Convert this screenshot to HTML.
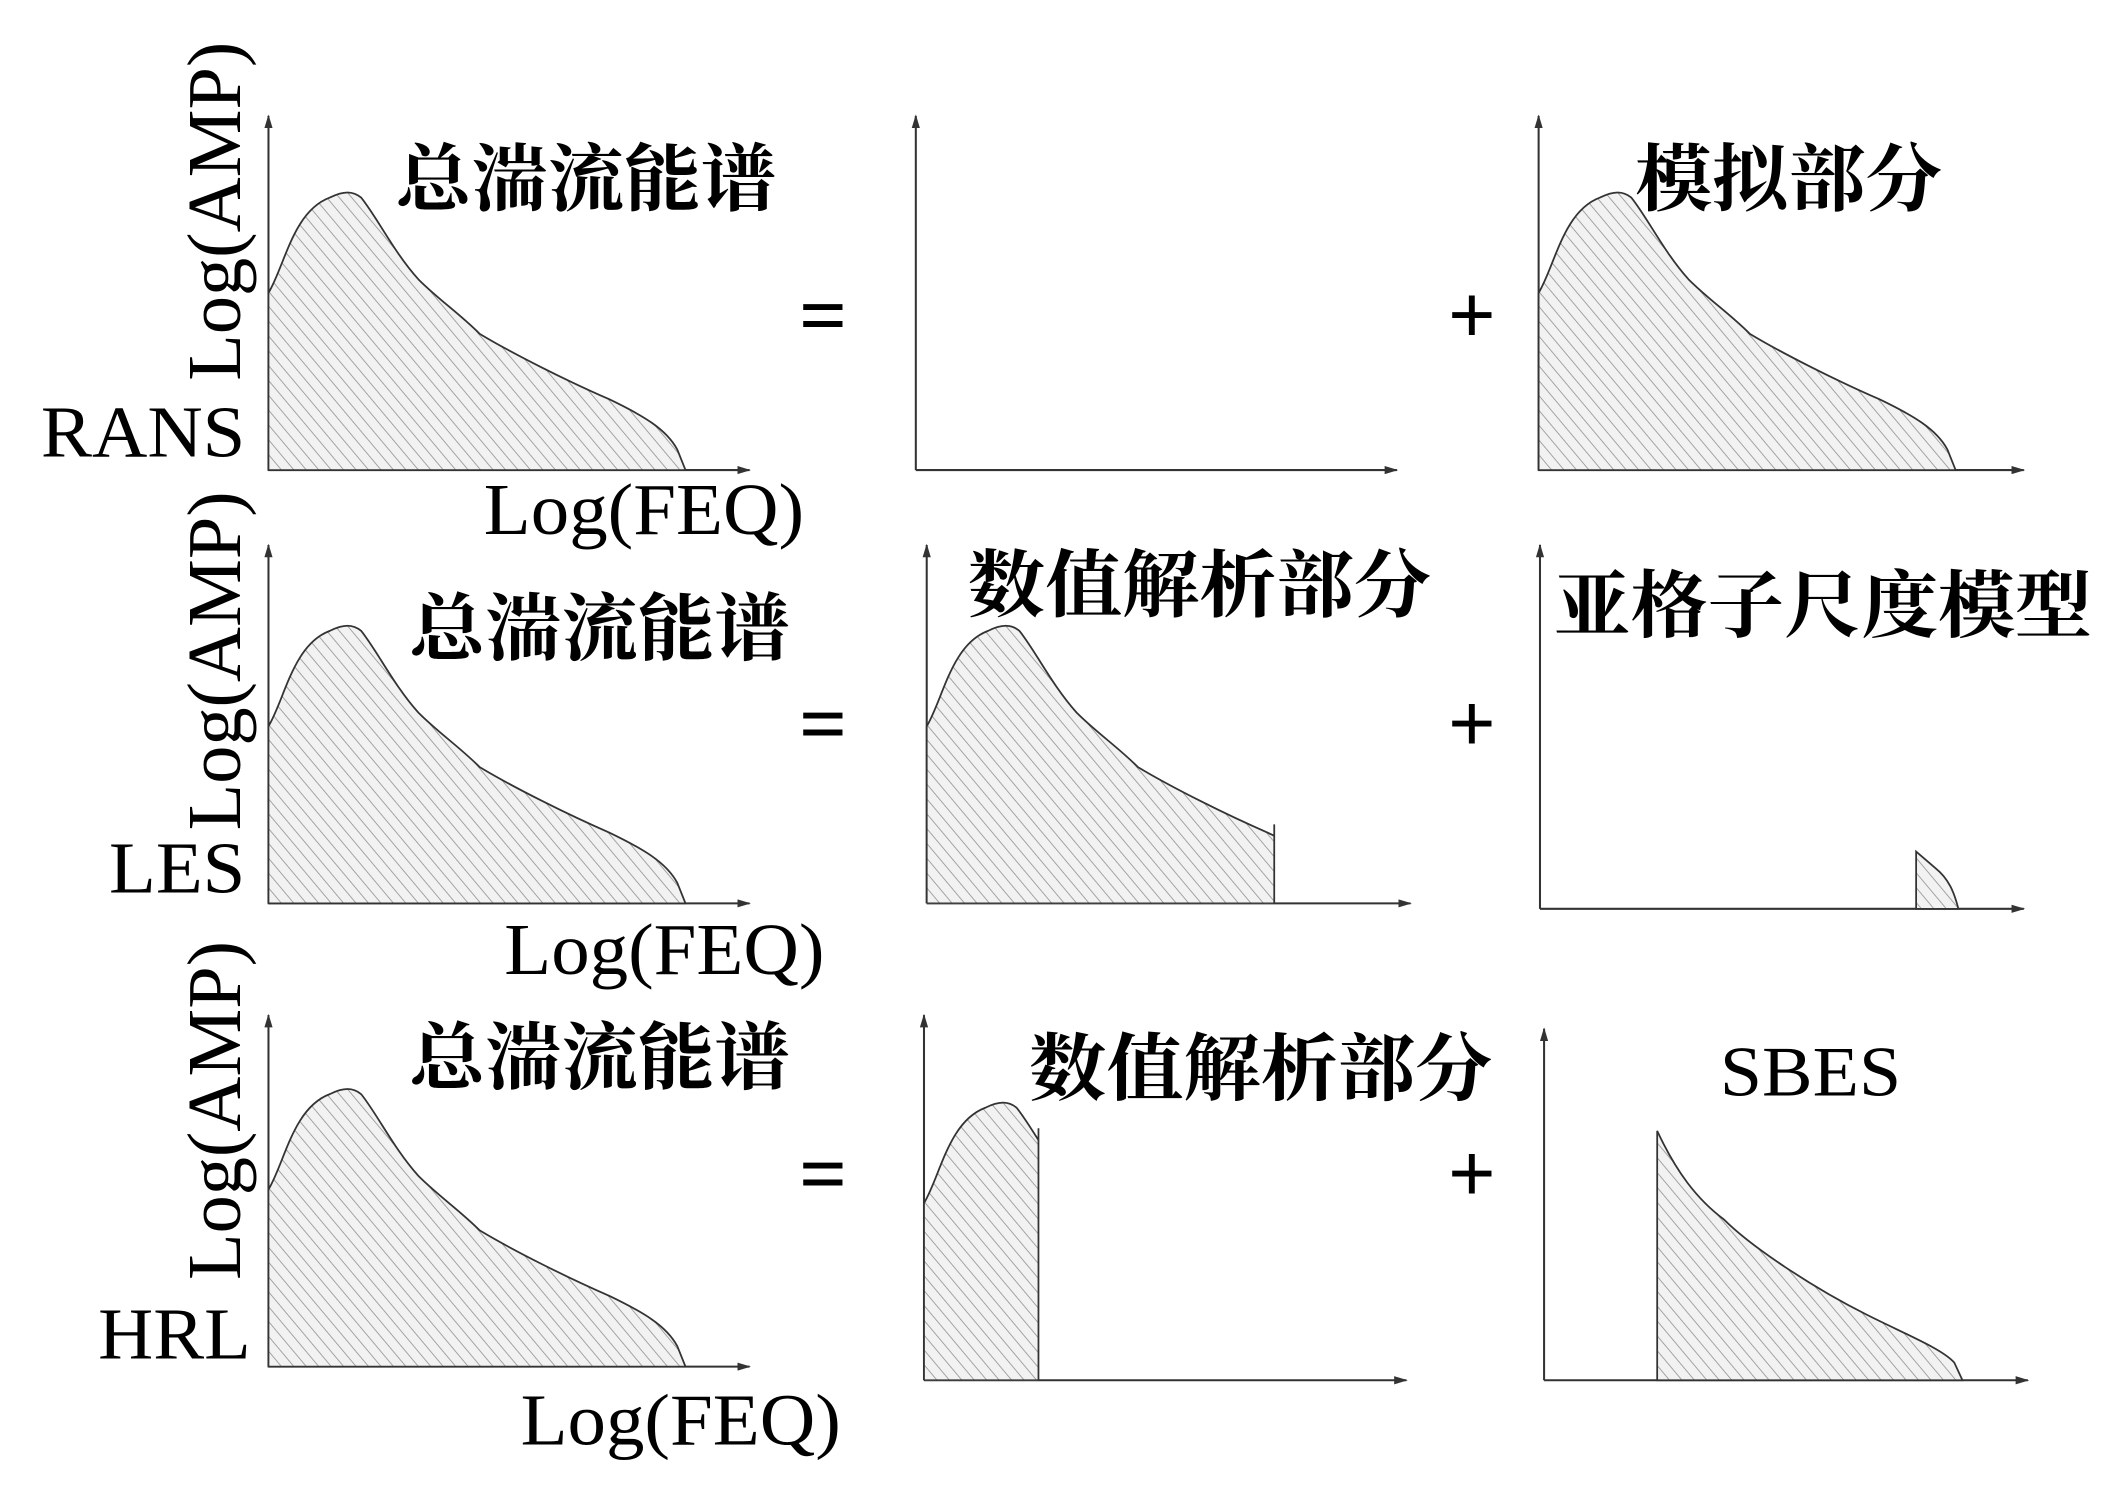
<!DOCTYPE html>
<html><head><meta charset="utf-8"><style>
html,body{margin:0;padding:0;background:#fff;}
svg{display:block;}
.l{font-family:"Liberation Serif",serif;fill:#000;}
.c{font-family:"Liberation Serif","Noto Serif CJK SC",serif;fill:#000;font-weight:bold;}
</style></head><body>
<svg width="2126" height="1492" viewBox="0 0 1560 1095" preserveAspectRatio="none" xmlns="http://www.w3.org/2000/svg">
<defs>
<pattern id="h" patternUnits="userSpaceOnUse" width="7" height="7" patternTransform="rotate(-40)">
<rect width="7" height="7" fill="#f2f2f2"/>
<line x1="0" y1="0" x2="0" y2="7" stroke="#9a9a9a" stroke-width="1.3"/>
</pattern>
<marker id="a" markerWidth="10" markerHeight="6" refX="9" refY="3" orient="auto" markerUnits="userSpaceOnUse"><path d="M0,0 L10,3 L0,6 Z" fill="#333"/></marker>
<path id="sh" d="M0,-130 C12,-150 18,-190 45,-200 C55,-205 62,-205 68,-200 C80,-185 92,-160 110,-140 C125,-125 140,-115 155,-100 C180,-85 220,-65 250,-52 C275,-40 292,-30 300,-15 L306,0 L0,0 Z" fill="url(#h)" stroke="#333" stroke-width="1.3"/>
<clipPath id="c2"><rect x="-5" y="-300" width="260" height="300"/></clipPath>
<clipPath id="c3"><rect x="-5" y="-300" width="89" height="300"/></clipPath>
</defs>
<g stroke="#333" stroke-width="1.5" fill="none">
<line x1="197" y1="345" x2="197" y2="85" marker-end="url(#a)"/><line x1="197" y1="345" x2="550" y2="345" marker-end="url(#a)"/>
<line x1="672" y1="345" x2="672" y2="85" marker-end="url(#a)"/><line x1="672" y1="345" x2="1025" y2="345" marker-end="url(#a)"/>
<line x1="1129" y1="345" x2="1129" y2="85" marker-end="url(#a)"/><line x1="1129" y1="345" x2="1485" y2="345" marker-end="url(#a)"/>
<line x1="197" y1="663" x2="197" y2="400" marker-end="url(#a)"/><line x1="197" y1="663" x2="550" y2="663" marker-end="url(#a)"/>
<line x1="680" y1="663" x2="680" y2="400" marker-end="url(#a)"/><line x1="680" y1="663" x2="1035" y2="663" marker-end="url(#a)"/>
<line x1="1130" y1="667" x2="1130" y2="400" marker-end="url(#a)"/><line x1="1130" y1="667" x2="1485" y2="667" marker-end="url(#a)"/>
<line x1="197" y1="1003" x2="197" y2="745" marker-end="url(#a)"/><line x1="197" y1="1003" x2="550" y2="1003" marker-end="url(#a)"/>
<line x1="678" y1="1013" x2="678" y2="745" marker-end="url(#a)"/><line x1="678" y1="1013" x2="1032" y2="1013" marker-end="url(#a)"/>
<line x1="1133" y1="1013" x2="1133" y2="755" marker-end="url(#a)"/><line x1="1133" y1="1013" x2="1488" y2="1013" marker-end="url(#a)"/>
</g>
<use href="#sh" transform="translate(197,345)"/>
<use href="#sh" transform="translate(1129,345)"/>
<use href="#sh" transform="translate(197,663)"/>
<g transform="translate(680,663)"><use href="#sh" clip-path="url(#c2)"/><line x1="255" y1="0" x2="255" y2="-58" stroke="#333" stroke-width="1.3"/></g>
<path d="M1406,667 L1406,625 L1420,637 C1430,645 1434,655 1437,667 Z" fill="url(#h)" stroke="#333" stroke-width="1.3"/>
<use href="#sh" transform="translate(197,1003)"/>
<g transform="translate(678,1013)"><use href="#sh" clip-path="url(#c3)"/><line x1="84" y1="0" x2="84" y2="-185" stroke="#333" stroke-width="1.3"/></g>
<path d="M1216,1013 L1216,830 C1230,860 1245,880 1265,895 C1285,915 1330,945 1370,965 C1400,980 1425,990 1434,1000 L1440,1013 Z" fill="url(#h)" stroke="#333" stroke-width="1.3"/>
<text class="l" font-size="56" transform="translate(176,155) rotate(-90)" text-anchor="middle">Log(AMP)</text>
<text class="l" font-size="56" transform="translate(176,485) rotate(-90)" text-anchor="middle">Log(AMP)</text>
<text class="l" font-size="56" transform="translate(176,815) rotate(-90)" text-anchor="middle">Log(AMP)</text>
<text class="l" font-size="54" x="180" y="335" text-anchor="end" textLength="150" lengthAdjust="spacingAndGlyphs">RANS</text>
<text class="l" font-size="54" x="180" y="655" text-anchor="end" textLength="100" lengthAdjust="spacingAndGlyphs">LES</text>
<text class="l" font-size="54" x="184" y="997" text-anchor="end" textLength="112" lengthAdjust="spacingAndGlyphs">HRL</text>
<text class="l" font-size="54" x="355" y="392" textLength="235" lengthAdjust="spacingAndGlyphs">Log(FEQ)</text>
<text class="l" font-size="54" x="370" y="715" textLength="235" lengthAdjust="spacingAndGlyphs">Log(FEQ)</text>
<text class="l" font-size="54" x="382" y="1060" textLength="235" lengthAdjust="spacingAndGlyphs">Log(FEQ)</text>
<text class="c" font-size="54" x="290" y="150" textLength="280" lengthAdjust="spacingAndGlyphs">总湍流能谱</text>
<text class="c" font-size="54" x="1200" y="150" textLength="225" lengthAdjust="spacingAndGlyphs">模拟部分</text>
<text class="c" font-size="54" x="300" y="480" textLength="280" lengthAdjust="spacingAndGlyphs">总湍流能谱</text>
<text class="c" font-size="54" x="710" y="448" textLength="340" lengthAdjust="spacingAndGlyphs">数值解析部分</text>
<text class="c" font-size="54" x="1140" y="463" textLength="395" lengthAdjust="spacingAndGlyphs">亚格子尺度模型</text>
<text class="c" font-size="54" x="300" y="795" textLength="280" lengthAdjust="spacingAndGlyphs">总湍流能谱</text>
<text class="c" font-size="54" x="755" y="803" textLength="340" lengthAdjust="spacingAndGlyphs">数值解析部分</text>
<text class="l" font-size="52" x="1262" y="804" textLength="133" lengthAdjust="spacingAndGlyphs">SBES</text>
<g class="l" font-size="62" font-weight="bold" text-anchor="middle">
<text x="604" y="252">=</text><text x="1080" y="252">+</text>
<text x="604" y="552">=</text><text x="1080" y="552">+</text>
<text x="604" y="882">=</text><text x="1080" y="882">+</text>
</g>
</svg>
</body></html>
